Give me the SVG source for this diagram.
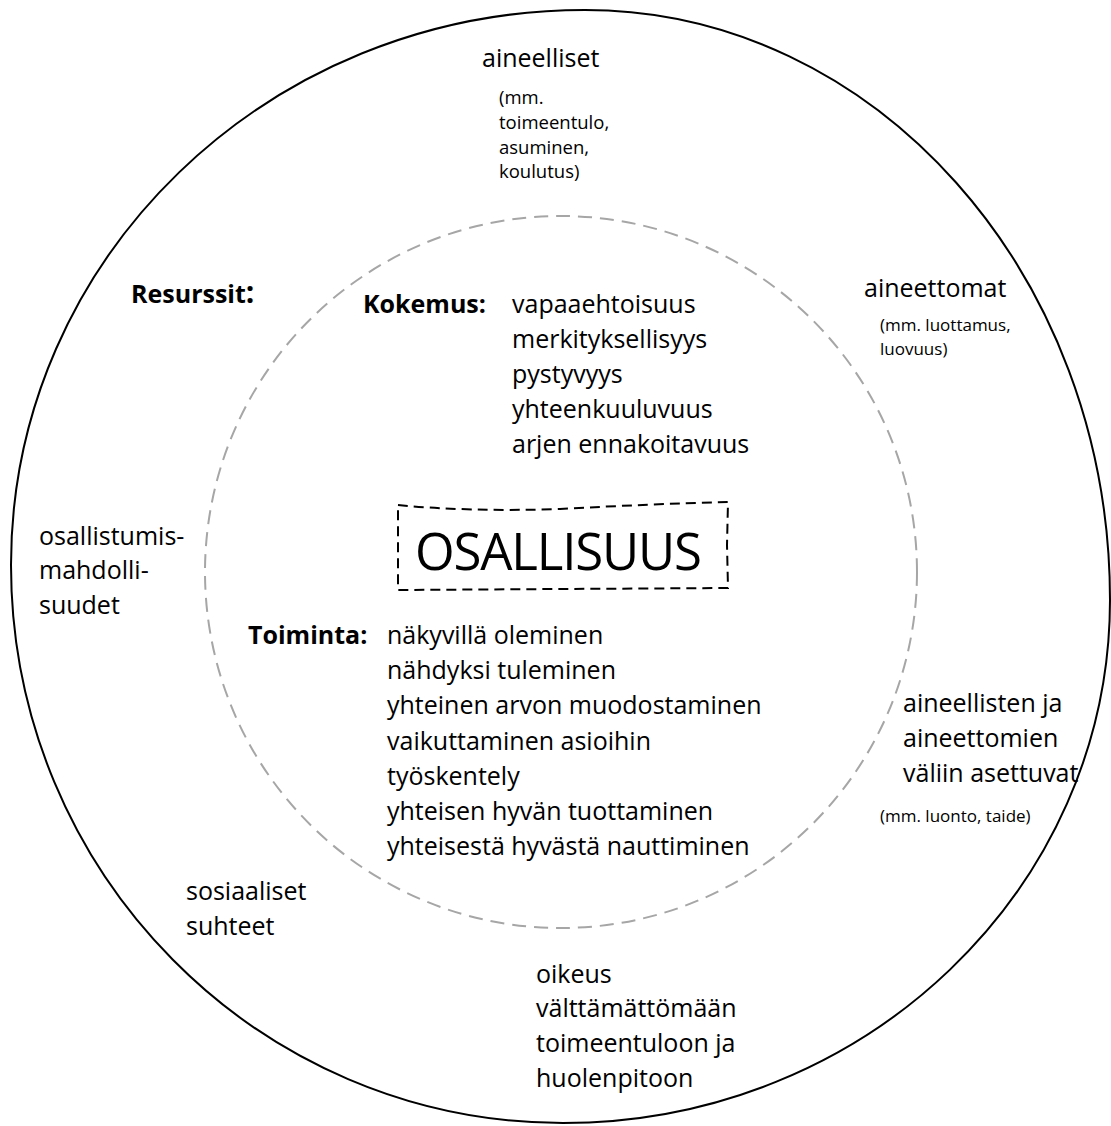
<svg xmlns="http://www.w3.org/2000/svg" width="1111" height="1126" viewBox="0 0 1111 1126">
  <style>
    text { font-family: "Open Sans", "Liberation Sans", sans-serif; fill: #000; }
    .t { font-size: 25px; }
    .b { font-size: 25px; font-weight: bold; }
    .s { font-size: 18.5px; }
    .s2 { font-size: 17px; }
    .big { font-size: 51px; }
    .outer { fill: none; stroke: #000; stroke-width: 2; }
    .inner { fill: none; stroke: #a6a6a6; stroke-width: 2; stroke-dasharray: 14 8; }
    .box { fill: none; stroke: #000; stroke-width: 2; stroke-dasharray: 10 6; }
  </style>
  <rect width="1111" height="1126" fill="#fff"/>

  <g id="outer-ring">
    <path class="outer" d="M585,10 C875,10 1110,274 1110,600 C1110,889 865,1123 563,1123 C258,1123 11,873 11,565 C11,258 268,10 585,10 Z"/>
  </g>

  <g id="inner-ring">
    <circle class="inner" cx="561" cy="572" r="356"/>
  </g>

  <g id="center-node">
    <path class="box" d="M398,505 Q470,512 560,509 Q650,504 728,502 L727,545 L728,588 L560,589 L398,590 Z"/>
    <text class="big" x="415" y="570" textLength="287">OSALLISUUS</text>
  </g>

  <g id="resources-label">
    <text class="b" x="131" y="303" font-size="23.5">Resurssit<tspan font-size="30">:</tspan></text>
  </g>

  <g id="resource-material">
    <text class="t" x="482" y="67">aineelliset</text>
    <text class="s" x="499" y="104">(mm.</text>
    <text class="s" x="499" y="129">toimeentulo,</text>
    <text class="s" x="499" y="154">asuminen,</text>
    <text class="s" x="499" y="178">koulutus)</text>
  </g>

  <g id="resource-immaterial">
    <text class="t" x="864" y="297">aineettomat</text>
    <text class="s2" x="880" y="331">(mm. luottamus,</text>
    <text class="s2" x="880" y="355">luovuus)</text>
  </g>

  <g id="resource-between">
    <text class="t" x="903" y="712">aineellisten ja</text>
    <text class="t" x="903" y="747">aineettomien</text>
    <text class="t" x="903" y="782">väliin asettuvat</text>
    <text class="s2" x="880" y="822">(mm. luonto, taide)</text>
  </g>

  <g id="resource-opportunities">
    <text class="t" x="39" y="545">osallistumis-</text>
    <text class="t" x="39" y="579">mahdolli-</text>
    <text class="t" x="39" y="614">suudet</text>
  </g>

  <g id="resource-social">
    <text class="t" x="186" y="900">sosiaaliset</text>
    <text class="t" x="186" y="935">suhteet</text>
  </g>

  <g id="resource-rights">
    <text class="t" x="536" y="983">oikeus</text>
    <text class="t" x="536" y="1017">välttämättömään</text>
    <text class="t" x="536" y="1052">toimeentuloon ja</text>
    <text class="t" x="536" y="1087">huolenpitoon</text>
  </g>

  <g id="experience">
    <text class="b" x="363" y="313">Kokemus:</text>
    <text class="t" x="512" y="313">vapaaehtoisuus</text>
    <text class="t" x="512" y="348">merkityksellisyys</text>
    <text class="t" x="512" y="383">pystyvyys</text>
    <text class="t" x="512" y="418">yhteenkuuluvuus</text>
    <text class="t" x="512" y="453">arjen ennakoitavuus</text>
  </g>

  <g id="action">
    <text class="b" x="248" y="644" font-size="24">Toiminta:</text>
    <text class="t" x="387" y="644">näkyvillä oleminen</text>
    <text class="t" x="387" y="679">nähdyksi tuleminen</text>
    <text class="t" x="387" y="714">yhteinen arvon muodostaminen</text>
    <text class="t" x="387" y="750">vaikuttaminen asioihin</text>
    <text class="t" x="387" y="785">työskentely</text>
    <text class="t" x="387" y="820">yhteisen hyvän tuottaminen</text>
    <text class="t" x="387" y="855">yhteisestä hyvästä nauttiminen</text>
  </g>

  <g id="connectors"></g>
</svg>
